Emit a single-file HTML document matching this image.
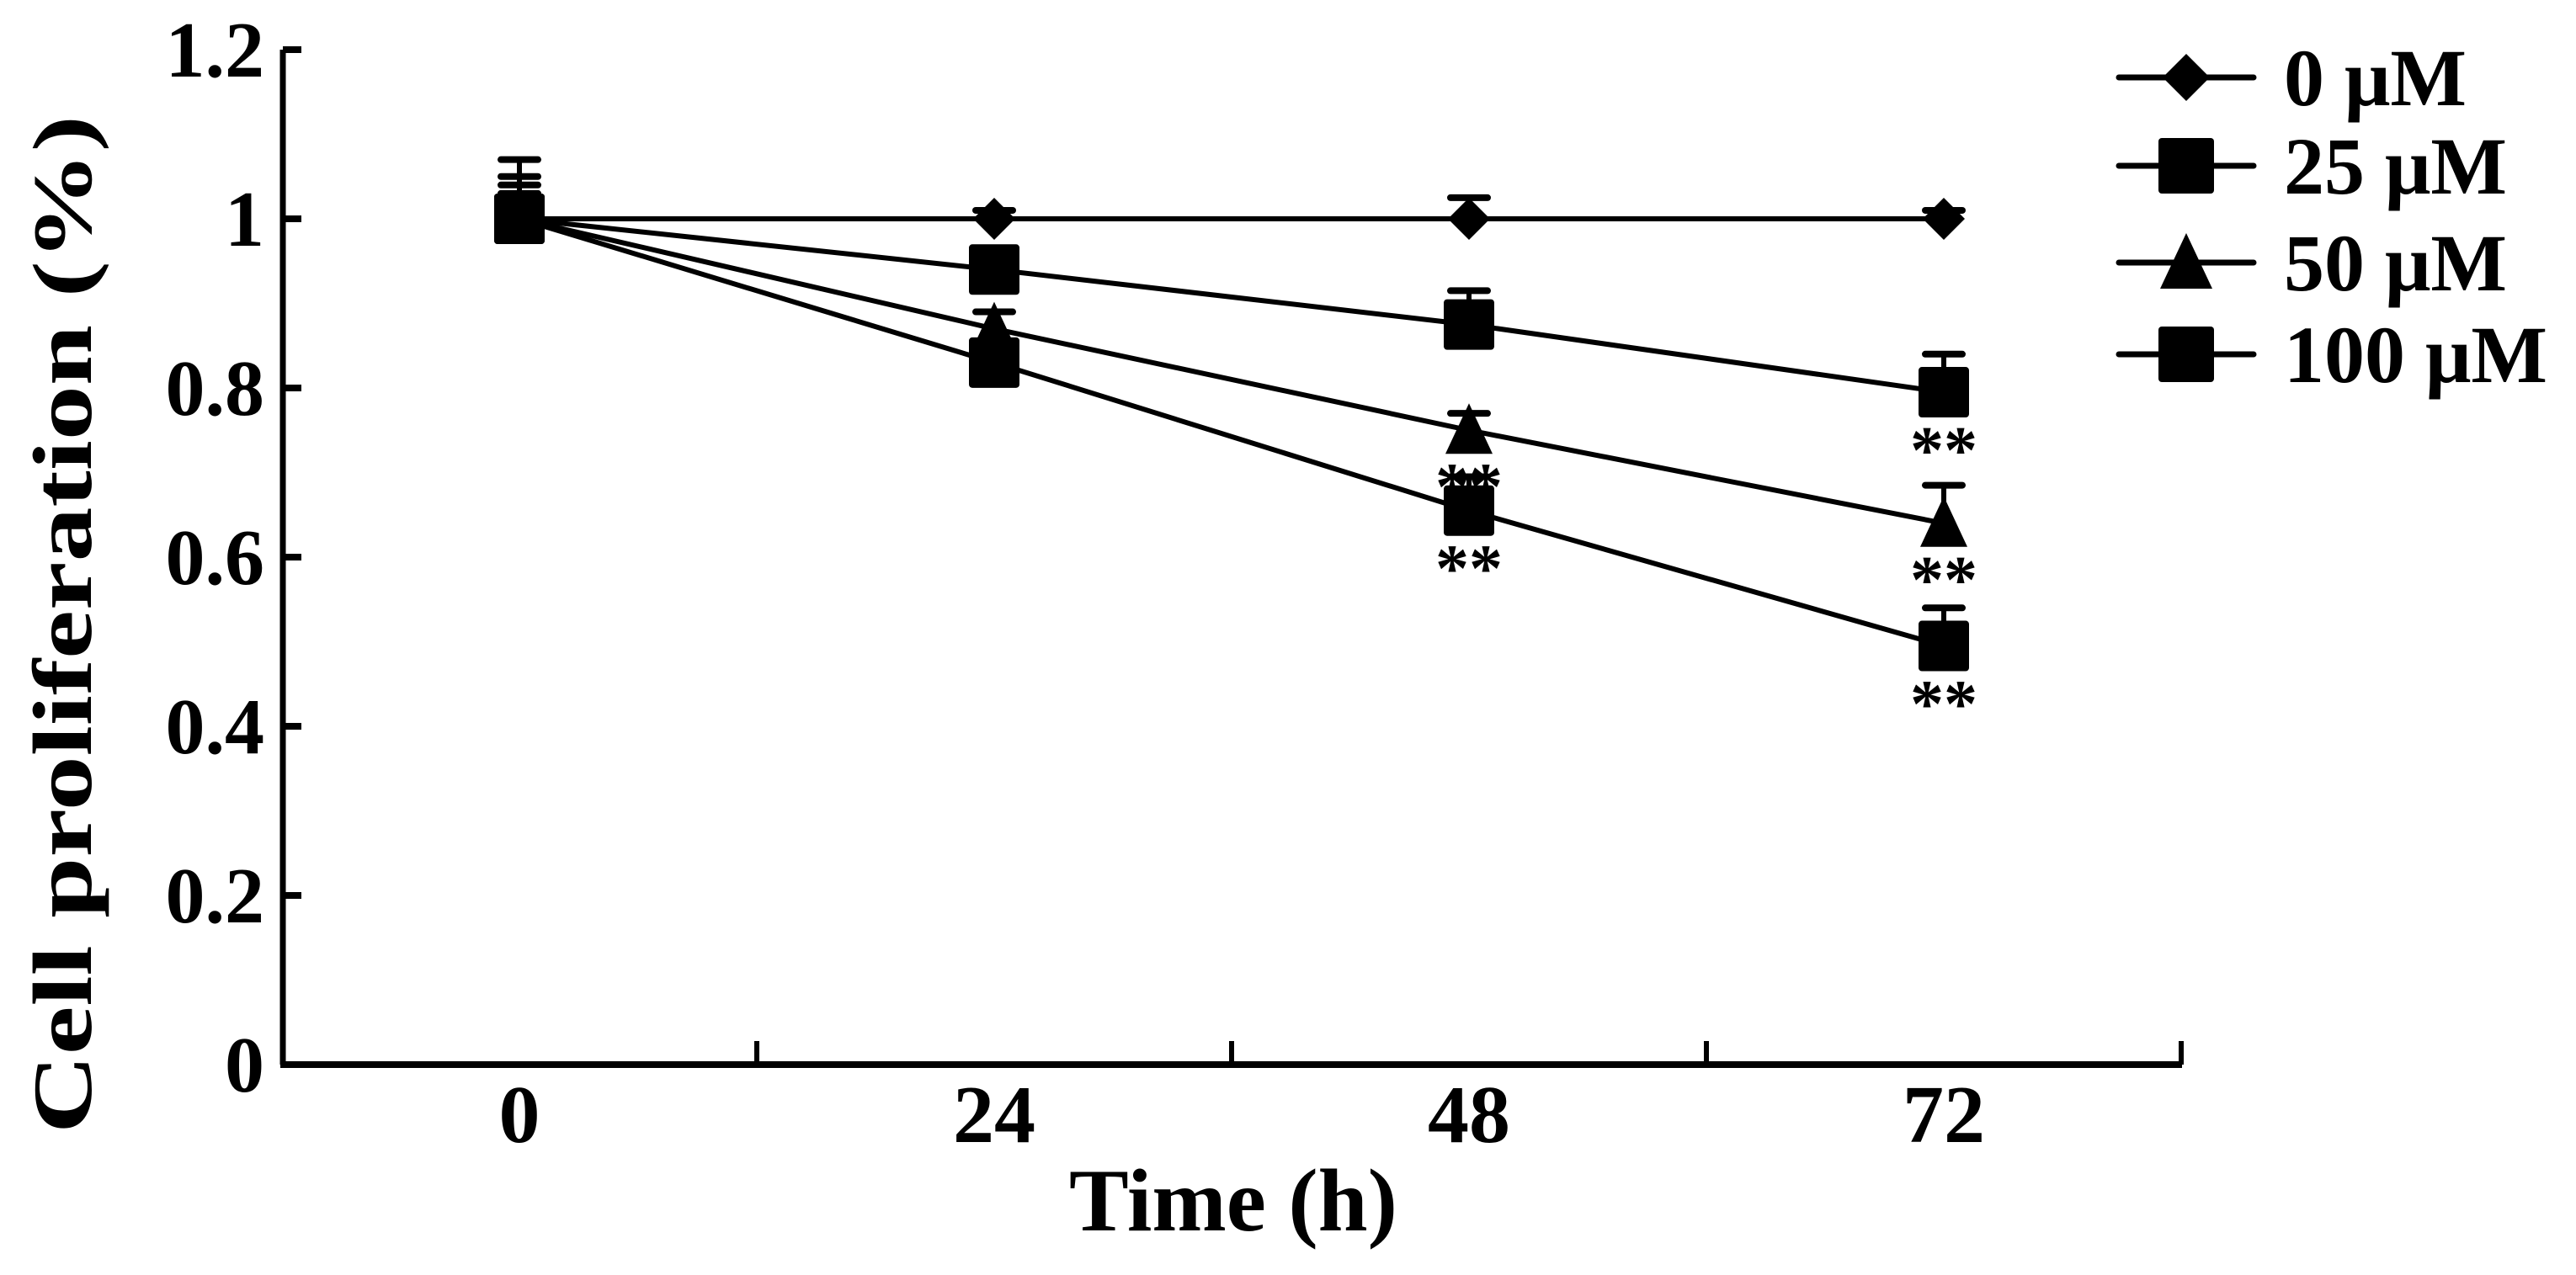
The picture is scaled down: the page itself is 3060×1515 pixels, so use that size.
<!DOCTYPE html>
<html><head><meta charset="utf-8"><style>
html,body{margin:0;padding:0;background:#fff;}
svg{display:block;}
text{font-family:"Liberation Serif",serif;font-weight:bold;fill:#000;}
</style></head><body>
<svg id="chart" width="3060" height="1515" viewBox="0 0 3060 1515" xmlns="http://www.w3.org/2000/svg"></svg>
<script>
const times = [0, 24, 48, 72];
const seriesNames = ["0 μM", "25 μM", "50 μM", "100 μM"];
const markers = ["diamond", "square", "triangle", "square"];
const v0 = [1.0, 1.0, 1.0, 1.0];
const v25 = [1.0, 0.94, 0.875, 0.795];
const v50 = [1.0, 0.87, 0.75, 0.64];
const v100 = [1.0, 0.83, 0.655, 0.495];
const e0 = [0.07, 0.01, 0.025, 0.01];
const e25 = [0.05, 0.02, 0.04, 0.045];
const e50 = [0.04, 0.02, 0.02, 0.045];
const e100 = [0.03, 0.02, 0.04, 0.045];
const sig25 = [false, false, false, true];
const sig50 = [false, false, true, true];
const sig100 = [false, false, true, true];
const yTicks = [0, 0.2, 0.4, 0.6, 0.8, 1, 1.2];
const yTickLabels = ["0", "0.2", "0.4", "0.6", "0.8", "1", "1.2"];
const xTickLabels = ["0", "24", "48", "72"];

const NS = "http://www.w3.org/2000/svg";
const svg = document.getElementById("chart");
const X0 = 336, X1 = 2592, Y0 = 1265, Y1 = 59;
function xs(t){ return 617 + (t/24)*564; }
function ys(v){ return Y0 - (v/1.2)*(Y0-Y1); }
function el(tag, attrs, parent){
  const e = document.createElementNS(NS, tag);
  for (const k in attrs) e.setAttribute(k, attrs[k]);
  (parent||svg).appendChild(e);
  return e;
}
function marker(type, x, y, s, g){
  let m;
  if (type === "square") m = el("rect", {x:x-s/2, y:y-s/2, width:s, height:s, rx:4}, g);
  else if (type === "diamond") m = el("polygon", {points:`${x},${y-s/2} ${x+s/2},${y} ${x},${y+s/2} ${x-s/2},${y}`}, g);
  else m = el("polygon", {points:`${x},${y-s/2-4} ${x+s/2},${y+s/2} ${x-s/2},${y+s/2}`}, g);
  m.setAttribute("fill", "#000");
  return m;
}

// axes
const axes = el("g", {});


const ya = el("line", {x1:X0, y1:Y1, x2:X0, y2:Y0, stroke:"#000", "stroke-width":7}, axes);


const xa = el("line", {x1:X0-3, y1:Y0, x2:X1, y2:Y0, stroke:"#000", "stroke-width":8}, axes);


yTicks.forEach((v, i) => {
  const y = ys(v);
  const t = el("line", {x1:X0, y1:y, x2:X0+22, y2:y, stroke:"#000", "stroke-width":8}, axes);
  
  
  const lb = el("text", {x:X0-22, y:y+32, "text-anchor":"end", "font-size":94}, axes);
  lb.textContent = yTickLabels[i];
  
  
});
for (let i = 1; i <= 4; i++) {
  const x = xs(i*24 - 12);
  const t = el("line", {x1:x, y1:Y0, x2:x, y2:Y0-28, stroke:"#000", "stroke-width":6}, axes);
  
  
}
times.forEach((t, i) => {
  const lb = el("text", {x:xs(t), y:Y0+92, "text-anchor":"middle", "font-size":98}, axes);
  lb.textContent = xTickLabels[i];
  
  
});
const xt = el("text", {x:1465, y:1462, "text-anchor":"middle", "font-size":106, textLength:390, lengthAdjust:"spacingAndGlyphs"});
xt.textContent = "Time (h)";


const yt = el("text", {x:0, y:0, "text-anchor":"middle", "font-size":100, transform:"translate(108,742) rotate(-90)", textLength:1210, lengthAdjust:"spacingAndGlyphs"});
yt.textContent = "Cell proliferation (%)";



// series
const vals = [v0, v25, v50, v100];
const errs = [e0, e25, e50, e100];
const sigs = [null, sig25, sig50, sig100];
const sizes = [50, 60, 56, 60];
[3,2,1,0].forEach(si => {
  const g = el("g", {});
  
  
  const pts = times.map((t, i) => `${xs(t)},${ys(vals[si][i])}`).join(" ");
  const pl = el("polyline", {points:pts, fill:"none", stroke:"#000", "stroke-width":6}, g);
  
  
  times.forEach((t, i) => {
    const x = xs(t), y = ys(vals[si][i]), ye = ys(vals[si][i] + errs[si][i]);
    const eb = el("line", {x1:x, y1:y, x2:x, y2:ye, stroke:"#000", "stroke-width":6}, g);
    
    
    const cap = el("line", {x1:x-22, y1:ye, x2:x+22, y2:ye, stroke:"#000", "stroke-width":8, "stroke-linecap":"round"}, g);
    
    
    const m = marker(markers[si], x, y, sizes[si], g);
    
    
    if (sigs[si] && sigs[si][i]) {
      const st = el("text", {x:x, y:y + sizes[si]/2 + 66, "text-anchor":"middle", "font-size":80}, g);
      st.textContent = "**";
      
      
    }
  });
});

// legend
const legY = [92, 197, 312, 421];
seriesNames.forEach((n, i) => {
  const g = el("g", {});
  
  
  el("line", {x1:2517, y1:legY[i], x2:2677, y2:legY[i], stroke:"#000", "stroke-width":7, "stroke-linecap":"round"}, g);
  marker(markers[i], 2597, legY[i], sizes[i] + 6, g);
  const t = el("text", {x:2713, y:legY[i]+33, "font-size":96}, g);
  t.textContent = n;
  
  
});
</script>
</body></html>
